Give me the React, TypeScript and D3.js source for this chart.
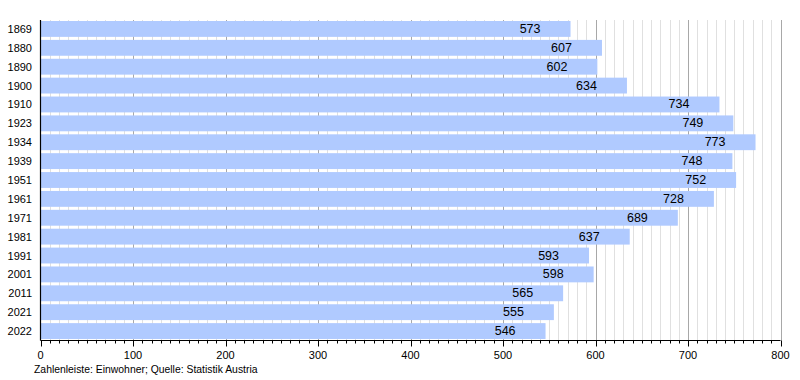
import React from "react";
import * as d3 from "d3";

const years = ["1869","1880","1890","1900","1910","1923","1934","1939","1951","1961","1971","1981","1991","2001","2011","2021","2022"];
const values = [573,607,602,634,734,749,773,748,752,728,689,637,593,598,565,555,546];
const majorTicks = [0,100,200,300,400,500,600,700,800];
const footnote = "Zahlenleiste: Einwohner; Quelle: Statistik Austria";

export default function App() {
  const W = 800, H = 380;
  const left = 40.5, right = 780.5, top = 19.5, bottom = 340.5;
  const x = d3.scaleLinear().domain([0, 800]).range([left, right]);
  const y = d3.scaleBand().domain(years).range([top, bottom]).paddingInner(0.16).paddingOuter(0.08);
  const minor = d3.range(0, 801, 10);
  const font = "'Liberation Sans', Arial, sans-serif";
  return (
    <svg width={W} height={H} style={{ position: "absolute", left: 0, top: 0, background: "#fff" }} fontFamily={font}>
      {minor.filter(v => v % 100 !== 0).map(v => (
        <line key={"g" + v} x1={Math.round(x(v)) + 0.5} x2={Math.round(x(v)) + 0.5} y1={20} y2={bottom} stroke="#e0e0e0" strokeWidth={1} />
      ))}
      {majorTicks.filter(v => v !== 0).map(v => (
        <line key={"G" + v} x1={Math.round(x(v)) + 0.5} x2={Math.round(x(v)) + 0.5} y1={20} y2={bottom} stroke="#a8a8a8" strokeWidth={1} />
      ))}
      {years.map((yr, i) => (
        <g key={yr}>
          <rect x={left + 0.5} y={y(yr)} width={x(values[i]) - left - 0.5} height={y.bandwidth()} fill="#b0caff" />
          <text x={x(values[i]) - 30} y={(y(yr) as number) + y.bandwidth() / 2} textAnchor="end" dominantBaseline="central" fontSize={12.5} fill="#000">{values[i]}</text>
          <text x={32} y={(y(yr) as number) + y.bandwidth() / 2} textAnchor="end" dominantBaseline="central" fontSize={11} fill="#000">{yr}</text>
        </g>
      ))}
      <line x1={left} x2={left} y1={20} y2={bottom} stroke="#000" strokeWidth={1.2} />
      <line x1={left} x2={right} y1={bottom} y2={bottom} stroke="#000" strokeWidth={1.2} />
      {minor.map(v => (
        <line key={"t" + v} x1={Math.round(x(v)) + 0.5} x2={Math.round(x(v)) + 0.5} y1={bottom} y2={bottom + (v % 100 === 0 ? 6 : 3)} stroke="#000" strokeWidth={1} />
      ))}
      {majorTicks.map(v => (
        <text key={"l" + v} x={x(v)} y={355} textAnchor="middle" dominantBaseline="central" fontSize={11} fill="#000">{v}</text>
      ))}
      <text x={34} y={369.5} dominantBaseline="central" fontSize={10.4} fill="#000">{footnote}</text>
    </svg>
  );
}
